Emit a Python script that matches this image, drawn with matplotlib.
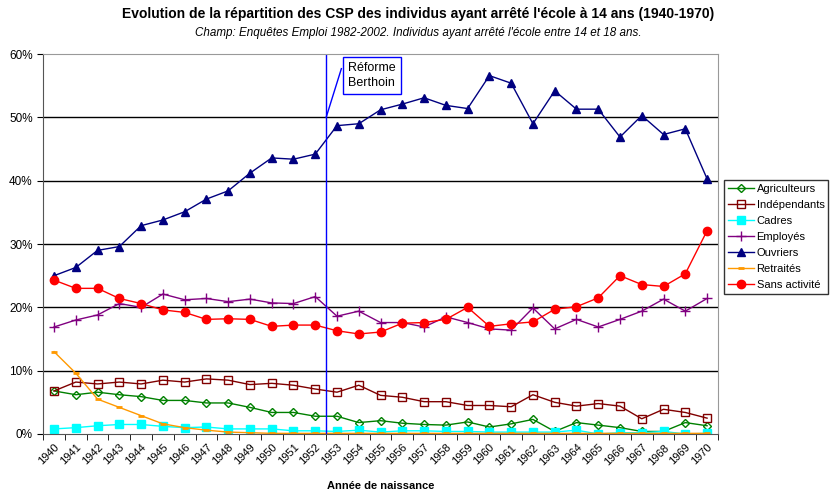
import matplotlib.pyplot as plt
import numpy as np

plt.rcParams['font.family'] = ['Liberation Sans', 'DejaVu Sans']

years = list(range(1940, 1971))

agriculteurs = [6.8, 6.2, 6.6, 6.2, 5.9, 5.3, 5.3, 4.9, 4.9, 4.2, 3.4,
                3.4, 2.8, 2.8, 1.8, 2.1, 1.7, 1.5, 1.4, 1.9, 1.1,
                1.6, 2.3, 0.4, 1.8, 1.4, 1.0, 0.4, 0.4, 1.8, 1.3]
independants = [6.8, 8.2, 7.9, 8.2, 7.9, 8.5, 8.2, 8.7, 8.5, 7.8, 8.0,
                7.7, 7.1, 6.6, 7.7, 6.1, 5.8, 5.1, 5.1, 4.5, 4.5,
                4.3, 6.2, 5.0, 4.4, 4.8, 4.4, 2.4, 3.9, 3.4, 2.5]
cadres = [0.8, 1.0, 1.3, 1.5, 1.5, 1.2, 1.0, 1.1, 0.8, 0.8, 0.8,
          0.5, 0.5, 0.4, 0.6, 0.3, 0.5, 0.5, 0.4, 0.4, 0.3,
          0.3, 0.3, 0.3, 0.6, 0.0, 0.2, 0.2, 0.4, 0.0, 0.1]
employes = [16.9, 18.0, 18.8, 20.6, 20.0, 22.1, 21.2, 21.4, 20.9, 21.3, 20.7,
            20.6, 21.7, 18.6, 19.4, 17.6, 17.6, 16.9, 18.5, 17.6, 16.6,
            16.4, 19.9, 16.6, 18.1, 16.9, 18.1, 19.4, 21.3, 19.4, 21.4]
ouvriers = [25.0, 26.3, 29.0, 29.6, 32.9, 33.8, 35.1, 37.1, 38.4, 41.2, 43.6,
            43.4, 44.2, 48.7, 49.0, 51.2, 52.1, 53.1, 51.9, 51.4, 56.6,
            55.4, 49.0, 54.2, 51.3, 51.3, 46.9, 50.3, 47.3, 48.2, 40.3]
retraites = [13.0, 9.6, 5.5, 4.2, 2.9, 1.6, 1.0, 0.6, 0.3, 0.2, 0.1,
             0.1, 0.1, 0.1, 0.1, 0.1, 0.1, 0.1, 0.1, 0.1, 0.1,
             0.1, 0.1, 0.1, 0.1, 0.1, 0.1, 0.1, 0.1, 0.1, 0.1]
sans_activite = [24.3, 23.0, 23.0, 21.4, 20.6, 19.6, 19.2, 18.1, 18.2, 18.1, 17.0,
                 17.2, 17.2, 16.3, 15.8, 16.1, 17.5, 17.6, 18.1, 20.0, 17.0,
                 17.4, 17.7, 19.7, 20.1, 21.5, 25.0, 23.6, 23.3, 25.3, 32.1]

x = np.arange(len(years))

fig = plt.figure(figsize=(8.3, 4.94), dpi=100)
ax = fig.add_axes([0.052, 0.1215, 0.813, 0.769])

for v in range(10, 60, 10):
    ax.axhline(v, color='black', lw=1, zorder=0)

ax.plot(x, agriculteurs, color='#008000', lw=1, marker='D', ms=4, mfc='none', mew=1, label='Agriculteurs')
ax.plot(x, independants, color='#800000', lw=1, marker='s', ms=6, mfc='none', mew=1, label='Indépendants')
ax.plot(x, cadres, color='#00FFFF', lw=1, marker='s', ms=6, label='Cadres')
ax.plot(x, employes, color='#800080', lw=1, marker='+', ms=7, mew=1, label='Employés')
ax.plot(x, ouvriers, color='#000080', lw=1, marker='^', ms=6, label='Ouvriers')
ax.plot(x, retraites, color='#FF9900', lw=1, marker='_', ms=4, mew=2, label='Retraités')
ax.plot(x, sans_activite, color='#FF0000', lw=1, marker='o', ms=6, label='Sans activité')

# réforme Berthoin
ax.axvline(12.5, color='#0000FF', lw=1)
ax.plot([12.5, 13.2], [50, 57.7], color='#0000FF', lw=1)
ax.text(13.5, 58.7, 'Réforme\nBerthoin', fontsize=9, va='top', ha='left', linespacing=1.25,
        bbox=dict(boxstyle='square,pad=0.4', fc='white', ec='#0000FF', lw=1))

ax.set_xlim(-0.5, len(years) - 0.5)
ax.set_ylim(0, 60)
ax.set_yticks(range(0, 61, 10))
ax.set_yticklabels([f'{v}%' for v in range(0, 61, 10)], fontsize=8.5)
ax.set_xticks(x)
ax.set_xticklabels([str(y) for y in years], rotation=45, ha='right', rotation_mode='anchor', fontsize=8)
ax.set_xticks(np.arange(-0.5, len(years), 1), minor=True)
ax.tick_params(axis='x', which='major', length=0, pad=6)
ax.tick_params(axis='x', which='minor', length=4, direction='out')
ax.tick_params(axis='y', length=4, direction='out')
for side in ['top', 'right']:
    ax.spines[side].set_color('#999999')
for side in ['left', 'bottom']:
    ax.spines[side].set_color('#555555')

ax.set_xlabel('Année de naissance', fontsize=8, fontweight='bold', labelpad=10)

fig.text(0.504, 0.972, "Evolution de la répartition des CSP des individus ayant arrêté l'école à 14 ans (1940-1970)",
         ha='center', va='center', fontsize=10, fontweight='bold')
fig.text(0.504, 0.933, "Champ: Enquêtes Emploi 1982-2002. Individus ayant arrêté l'école entre 14 et 18 ans.",
         ha='center', va='center', fontsize=8.4, style='italic')

leg = fig.legend(loc='upper left', bbox_to_anchor=(0.872, 0.636), fontsize=8, frameon=True,
                 fancybox=False, edgecolor='black', handlelength=2.4, labelspacing=0.55,
                 borderpad=0.35, handletextpad=0.2, borderaxespad=0)
leg.get_frame().set_linewidth(1)

fig.savefig('out.png', dpi=100)
